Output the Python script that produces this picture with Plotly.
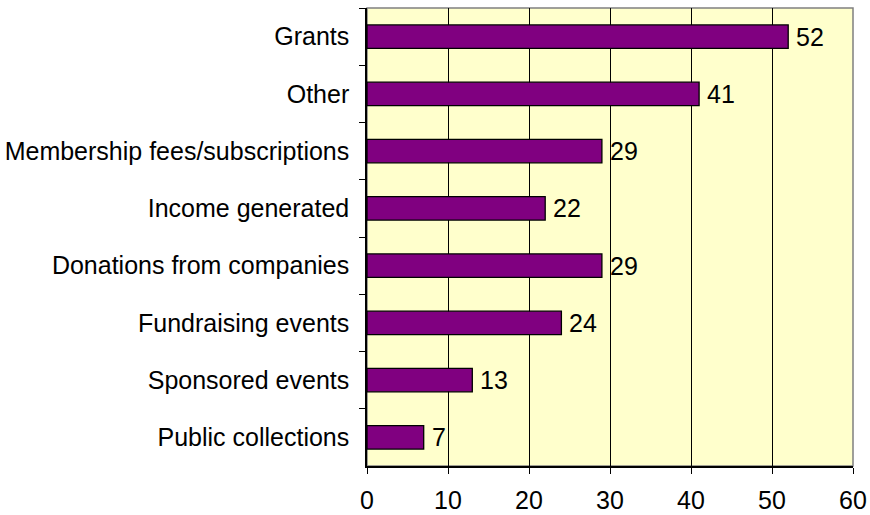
import plotly.graph_objects as go

categories = ["Grants", "Other", "Membership fees/subscriptions", "Income generated",
              "Donations from companies", "Fundraising events", "Sponsored events",
              "Public collections"]
values = [52, 41, 29, 22, 29, 24, 13, 7]
x_ticks = [0, 10, 20, 30, 40, 50, 60]

FONT = "Arial, Liberation Sans, sans-serif"
FS = 25

fig = go.Figure()
fig.add_trace(go.Bar(
    y=categories, x=values, orientation="h",
    marker=dict(color="#800080", line=dict(color="#000000", width=1.3)),
    width=0.41,
    cliponaxis=False,
))

annotations = [dict(x=v, y=c, xref="x", yref="y", text=str(v), showarrow=False,
                    xanchor="left", yanchor="middle", xshift=6,
                    font=dict(family=FONT, size=FS, color="#000000"))
               for c, v in zip(categories, values)]

fig.update_layout(
    width=870, height=515,
    margin=dict(l=367, r=17, t=8, b=49, pad=0),
    paper_bgcolor="#FFFFFF", plot_bgcolor="#FFFFCC",
    showlegend=False,
    font=dict(family=FONT, size=FS, color="#000000"),
    annotations=annotations,
    shapes=[dict(type="rect", xref="paper", yref="paper", x0=0, x1=1, y0=0, y1=1,
                 line=dict(color="#808080", width=1.5), layer="below")],
)
fig.update_xaxes(
    range=[0, 60], tickvals=x_ticks, ticktext=[str(t) for t in x_ticks],
    showgrid=True, gridcolor="#000000", gridwidth=1,
    showline=True, linecolor="#000000", linewidth=1.5,
    ticks="outside", ticklen=6, tickcolor="#000000",
    zeroline=False, tickfont=dict(family=FONT, size=FS), automargin=False,
    ticklabelstandoff=5,
)
fig.update_yaxes(
    categoryorder="array", categoryarray=categories, autorange="reversed",
    showgrid=False, showline=True, linecolor="#000000", linewidth=1.5,
    ticks="outside", ticklen=6, tickcolor="#000000", tickson="boundaries",
    tickfont=dict(family=FONT, size=FS), ticklabelstandoff=11, automargin=False,
)

fig.write_html("out.html", config={"displayModeBar": False},
               post_script="document.body.style.margin='0';document.body.style.overflow='hidden';")
